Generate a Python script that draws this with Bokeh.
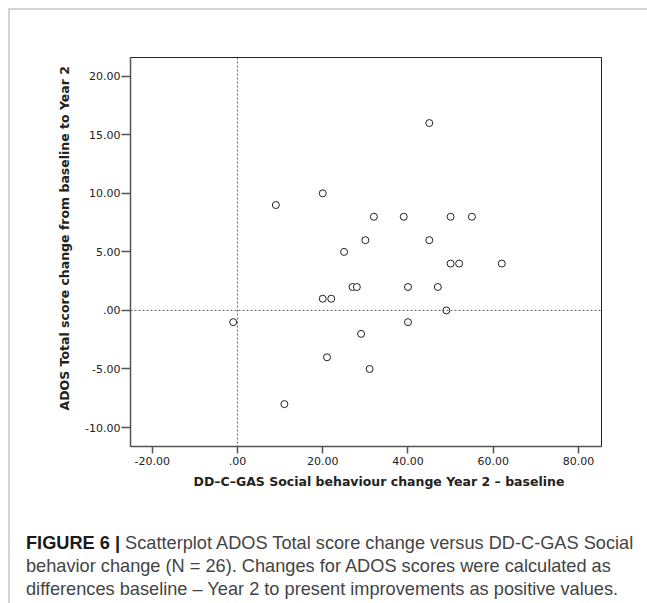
from bokeh.plotting import figure
from bokeh.layouts import column
from bokeh.models import Range1d, FixedTicker, Span, Title, Div
from bokeh.embed import file_html
from bokeh.resources import INLINE

# Data (N = 26)
gas_social_change = [45, 20, 9, 32, 39, 50, 55, 30, 45, 25, 50, 52, 62, 27, 28,
                     40, 47, 20, 22, 49, -1, 40, 29, 21, 31, 11]
ados_total_change = [16, 10, 9, 8, 8, 8, 8, 6, 6, 5, 4, 4, 4, 2, 2,
                     2, 2, 1, 1, 0, -1, -1, -2, -4, -5, -8]

x_ticks = [-20, 0, 20, 40, 60, 80]
x_tick_labels = ["-20.00", ".00", "20.00", "40.00", "60.00", "80.00"]
y_ticks = [-10, -5, 0, 5, 10, 15, 20]
y_tick_labels = ["-10.00", "-5.00", ".00", "5.00", "10.00", "15.00", "20.00"]

x_title = "DD\u2013C\u2013GAS Social behaviour change Year 2 \u2013 baseline"
y_title = "ADOS Total score change from baseline to Year 2"
caption_bold = "FIGURE 6 |"
caption_lines = [
    "Scatterplot ADOS Total score change versus DD-C-GAS Social",
    "behavior change (N = 26). Changes for ADOS scores were calculated as",
    "differences baseline \u2013 Year 2 to present improvements as positive values.",
]

p = figure(width=637, height=495, output_backend="svg", toolbar_location=None,
           x_range=Range1d(-25.1, 85.4), y_range=Range1d(-11.62, 21.6),
           min_border_left=120, min_border_right=46, min_border_top=47,
           min_border_bottom=59)
p.title.visible = False
p.xgrid.visible = False
p.ygrid.visible = False
p.outline_line_color = "#222222"
p.outline_line_width = 1
p.background_fill_color = "white"
p.border_fill_color = "white"

for ax, ticks, labels in ((p.xaxis[0], x_ticks, x_tick_labels), (p.yaxis[0], y_ticks, y_tick_labels)):
    ax.ticker = FixedTicker(ticks=ticks)
    ax.major_label_overrides = dict(zip(ticks, labels))
    ax.minor_tick_line_color = None
    ax.major_tick_in = 0
    ax.axis_line_color = "#555555"
    ax.axis_line_width = 1.5
    ax.major_tick_line_color = "#555555"
    ax.major_tick_line_width = 1.5
    ax.major_label_text_font = "DejaVu Sans"
    ax.major_label_text_font_size = "11px"
    ax.major_label_text_color = "#222222"

p.xaxis[0].major_tick_out = 7
p.xaxis[0].major_label_standoff = 3
p.yaxis[0].major_tick_out = 9
p.yaxis[0].major_label_standoff = 1

p.add_layout(Span(location=0, dimension="height", line_color="#666666",
                  line_dash="2 2", line_width=1))
p.add_layout(Span(location=0, dimension="width", line_color="#666666",
                  line_dash="2 2", line_width=1))

p.scatter(gas_social_change, ados_total_change, marker="circle", size=7,
          fill_color="white", line_color="#222222", line_width=1)

# axis titles as side titles (start-aligned with an offset along the axis)
p.add_layout(Title(text=x_title, align="left", offset=63, standoff=9,
                   text_font="DejaVu Sans", text_font_style="bold",
                   text_font_size="12.5px", text_color="#222222"), "below")
p.add_layout(Title(text=y_title, align="left", offset=36, standoff=22,
                   text_font="DejaVu Sans", text_font_style="bold",
                   text_font_size="12.5px", text_color="#222222"), "left")

caption_html = ("<b style='color:#1a1a1a'>" + caption_bold + "</b> " + caption_lines[0]
                + "<br>" + caption_lines[1] + "<br>" + caption_lines[2])
cap = Div(text=caption_html, width=637, height=93,
          styles={"font-family": "'Liberation Sans', Arial, sans-serif",
                  "font-size": "18.2px", "line-height": "23px", "color": "#444444",
                  "white-space": "nowrap", "padding-left": "11px",
                  "padding-top": "22px"})

layout = column(p, cap, spacing=0,
                styles={"margin-top": "8px", "margin-left": "8px",
                        "border-top": "2px solid #d4d4d4",
                        "border-left": "2px solid #d4d4d4",
                        "background-color": "white"})

open("out.html", "w").write(file_html(layout, INLINE))
